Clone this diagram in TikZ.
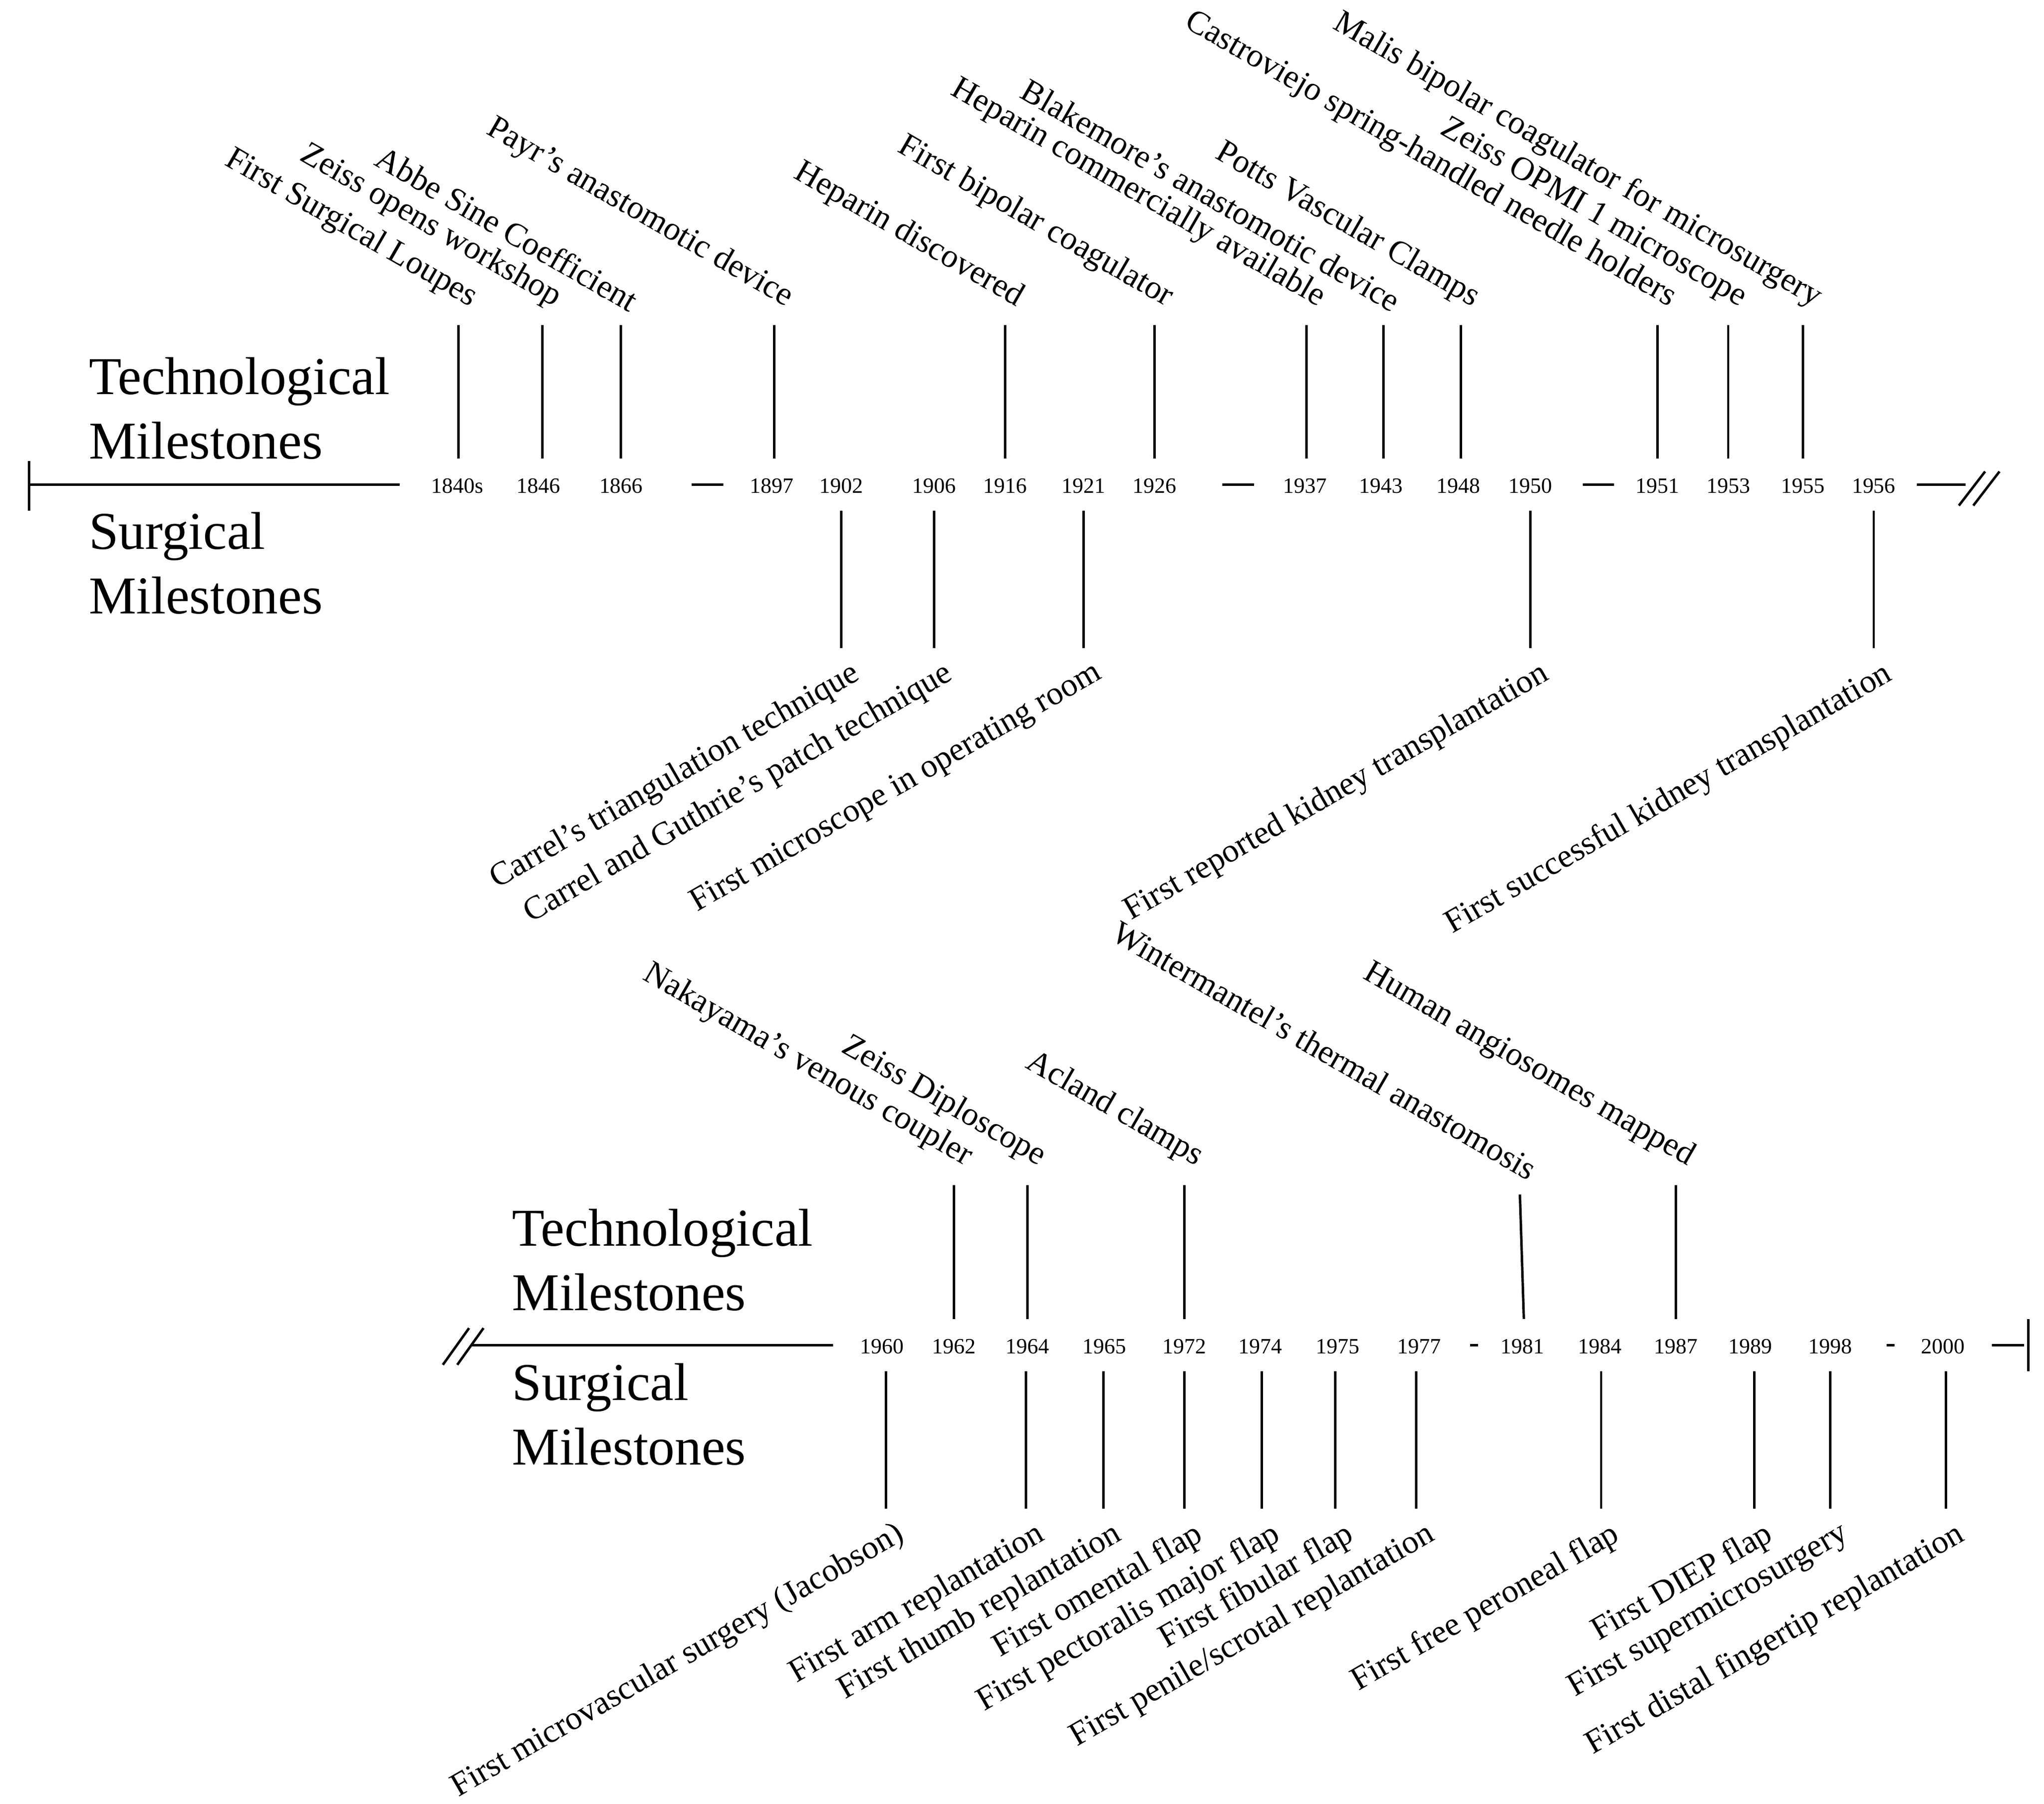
\documentclass[tikz,border=0pt]{standalone}
\usepackage{fontspec}
\setmainfont{Liberation Serif}
\begin{document}
\begin{tikzpicture}[x=0.02639cm,y=-0.02639cm,line width=1.4pt,
  yr/.style={font=\fontsize{12.5}{15}\selectfont,inner sep=0pt},
  ml/.style={font=\fontsize{19}{22}\selectfont,inner sep=1pt},
  up/.style={ml,rotate=-30,anchor=south east},
  dn/.style={ml,rotate=30,anchor=north east},
  side/.style={font=\fontsize{30.5}{37}\selectfont,align=left,anchor=north west,inner sep=0pt}]
\useasboundingbox (0,0) rectangle (1560,1377);
% ---- top timeline
\coordinate (tl) at (22,370); \coordinate (tr) at (305,370);
\draw (tl) -- (tr); \draw (22,352) -- (22,390);
\node[side] (t1) at (67,272) {Technological\\Milestones};
\node[side] (s1) at (67,390) {Surgical\\Milestones};
\foreach \x/\t in {349/1840s,411/1846,474/1866,589/1897,642/1902,713/1906,767/1916,827/1921,881/1926,996/1937,1054/1943,1113/1948,1168/1950,1265/1951,1319/1953,1376/1955,1430/1956}
  \node[yr] (y\t) at (\x,371) {\t};
\draw (528,370) -- (552,370); \draw (933,370) -- (957,370); \draw (1208,370) -- (1232,370);
\draw (1463,370) -- (1500,370);
\draw (1495,386) -- (1515,360); \draw (1506,386) -- (1526,360);
\foreach \x/\t in {350/First Surgical Loupes,414/Zeiss opens workshop,474/Abbe Sine Coefficient,591/Payr’s anastomotic device,767/Heparin discovered,881/First bipolar coagulator,997/Heparin commercially available,1056/Blakemore’s anastomotic device,1115/Potts Vascular Clamps,1265/Castroviejo spring-handled needle holders,1319/Zeiss OPMI 1 microscope,1376/Malis bipolar coagulator for microsurgery}
 { \draw (\x,248) -- (\x,350); \node[up] at (\x+7,242) {\t}; }
\foreach \x/\t in {642/Carrel’s triangulation technique,713/Carrel and Guthrie’s patch technique,827/First microscope in operating room,1168/First reported kidney transplantation,1430/First successful kidney transplantation}
 { \draw (\x,390) -- (\x,495); \node[dn] at (\x+7,500) {\t}; }
% ---- bottom timeline
\draw (360,1027) -- (636,1027);
\draw (338,1042) -- (358,1014); \draw (349,1042) -- (369,1014);
\node[side] (t2) at (390,922) {Technological\\Milestones};
\node[side] (s2) at (390,1040) {Surgical\\Milestones};
\foreach \x/\t in {673/1960,728/1962,784/1964,843/1965,904/1972,962/1974,1021/1975,1083/1977,1162/1981,1221/1984,1279/1987,1336/1989,1397/1998,1483/2000}
  \node[yr] (z\t) at (\x,1028) {\t};
\draw (1122,1027) -- (1128,1027); \draw (1440,1027) -- (1446,1027);
\draw (1520,1027) -- (1545,1027); \draw (1548,1007) -- (1548,1047);
\foreach \x/\t in {728/Nakayama’s venous coupler,784/Zeiss Diploscope,904/Acland clamps,1279/Human angiosomes mapped}
 { \draw (\x,905) -- (\x,1007); \node[up] at (\x+7,898) {\t}; }
\draw (1160,912) -- (1163,1007); \node[up] at (1167,905) {Wintermantel’s thermal anastomosis};
\foreach \x/\t in {676/{First microvascular surgery (Jacobson)},783/{First arm replantation},842/{First thumb replantation},904/{First omental flap},963/{First pectoralis major flap},1019/{First fibular flap},1081/{First penile/scrotal replantation},1222/{First free peroneal flap},1339/{First DIEP flap},1397/{First supermicrosurgery},1485/{First distal fingertip replantation}}
 { \draw (\x,1047) -- (\x,1152); \node[dn] at (\x+7,1157) {\t}; }
\end{tikzpicture}
\end{document}
